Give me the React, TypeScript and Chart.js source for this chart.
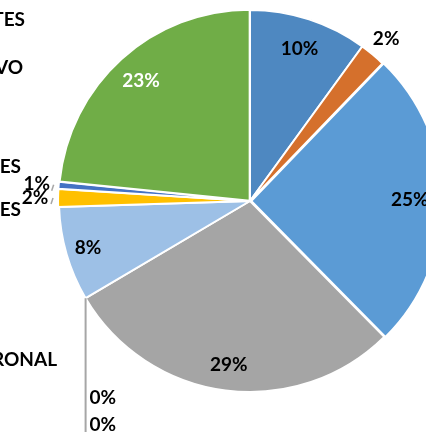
import React, { useEffect, useRef } from "react";
import { Chart, registerables } from "chart.js";

Chart.register(...registerables);

const CATEGORIES = [
  "Categoría 1",
  "Categoría 2",
  "Categoría 3",
  "Categoría 4",
  "Categoría 5",
  "Categoría 6",
  "Categoría 7",
  "Categoría 8",
  "Categoría 9",
  "Categoría 10",
];
const VALUES = [10.0, 2.2, 25.4, 28.9, 0, 0, 8.0, 1.5, 0.6, 23.4];
const COLORS = [
  "#4E88C1",
  "#D5702C",
  "#5B9BD5",
  "#A5A5A5",
  "#264478",
  "#9E480E",
  "#9DC0E6",
  "#FFC000",
  "#4472C4",
  "#70AD47",
];
const LEFT_TEXTS = ["TES", "VO", "ES", "ES", "RONAL"];

// presentation settings (not data)
const OFFSETS = [0, 0, 5, 0, 0, 0, 0, 2, 2, 2];
const LABEL_FACTOR = [0.84, 1.11, 0.81, 0.866, 0, 0, 0.883, 1.115, 1.11, 0.84];
const LABEL_COLOR = ["#000", "#000", "#000", "#000", "#000", "#000", "#000", "#000", "#000", "#fff"];
const LEFT_POS = [
  { x: 25, y: 20 },
  { x: 23, y: 68 },
  { x: 21, y: 167 },
  { x: 21, y: 210 },
  { x: 57, y: 360 },
];
const FONT = "bold 19px Lato, 'Open Sans', sans-serif";

const labelPlugin = {
  id: "pctLabels",
  afterDatasetsDraw(chart: any) {
    const ctx = chart.ctx as CanvasRenderingContext2D;
    const meta = chart.getDatasetMeta(0);
    const total = VALUES.reduce((a, b) => a + b, 0);
    ctx.save();
    ctx.font = FONT;
    ctx.textBaseline = "middle";
    ctx.textAlign = "center";
    let zeroCount = 0;
    meta.data.forEach((arc: any, i: number) => {
      const p = arc.getProps(["x", "y", "startAngle", "endAngle", "outerRadius"], true);
      const mid = (p.startAngle + p.endAngle) / 2;
      const off = OFFSETS[i];
      const cx = p.x + Math.cos(mid) * off;
      const cy = p.y + Math.sin(mid) * off;
      const text = Math.round((VALUES[i] / total) * 100) + "%";
      if (VALUES[i] === 0) {
        // leader line from the slice edge straight down
        const ax = cx + Math.cos(mid) * p.outerRadius;
        const ay = cy + Math.sin(mid) * p.outerRadius;
        if (zeroCount === 0) {
          ctx.strokeStyle = "#A6A6A6";
          ctx.lineWidth = 2;
          ctx.beginPath();
          ctx.moveTo(ax, ay);
          ctx.lineTo(ax, ay + 160);
          ctx.stroke();
        }
        ctx.fillStyle = "#000";
        ctx.textAlign = "left";
        ctx.fillText(text, ax + 4, ay + 100 + zeroCount * 27);
        ctx.textAlign = "center";
        zeroCount++;
        return;
      }
      const f = LABEL_FACTOR[i];
      const lx = cx + Math.cos(mid) * p.outerRadius * f;
      const ly = cy + Math.sin(mid) * p.outerRadius * f;
      if (f > 1 && (i === 7 || i === 8)) {
        // small leader tick
        const tx = cx + Math.cos(mid) * (p.outerRadius + 5);
        const ty = cy + Math.sin(mid) * (p.outerRadius + 5) + 3;
        ctx.strokeStyle = "#A6A6A6";
        ctx.lineWidth = 1.5;
        ctx.beginPath();
        ctx.moveTo(tx - 1, ty + 3);
        ctx.lineTo(tx + 1, ty - 3);
        ctx.stroke();
      }
      ctx.fillStyle = LABEL_COLOR[i];
      ctx.fillText(text, lx, ly);
    });
    // cropped legend texts on the left
    ctx.fillStyle = "#000";
    ctx.textAlign = "right";
    LEFT_TEXTS.forEach((t, i) => {
      ctx.fillText(t, LEFT_POS[i].x, LEFT_POS[i].y);
    });
    ctx.restore();
  },
};

export default function App() {
  const ref = useRef<HTMLCanvasElement | null>(null);
  useEffect(() => {
    if (!ref.current) return;
    const chart = new Chart(ref.current, {
      type: "pie",
      data: {
        labels: CATEGORIES,
        datasets: [
          {
            data: VALUES,
            backgroundColor: COLORS,
            borderColor: "#ffffff",
            borderWidth: 2,
            offset: OFFSETS,
          },
        ],
      },
      options: {
        responsive: false,
        maintainAspectRatio: false,
        devicePixelRatio: 1,
        animation: false,
        radius: 191,
        layout: { padding: { top: 0, left: 0, right: 0, bottom: 30 } },
        plugins: {
          legend: { display: false },
          tooltip: { enabled: false },
        },
      } as any,
      plugins: [labelPlugin],
    });
    return () => chart.destroy();
  }, []);
  return (
    <div
      style={{
        position: "absolute",
        left: 0,
        top: 0,
        width: 426,
        height: 432,
        overflow: "hidden",
        background: "#fff",
      }}
    >
      <canvas ref={ref} width={500} height={432} style={{ width: 500, height: 432, display: "block" }} />
    </div>
  );
}
